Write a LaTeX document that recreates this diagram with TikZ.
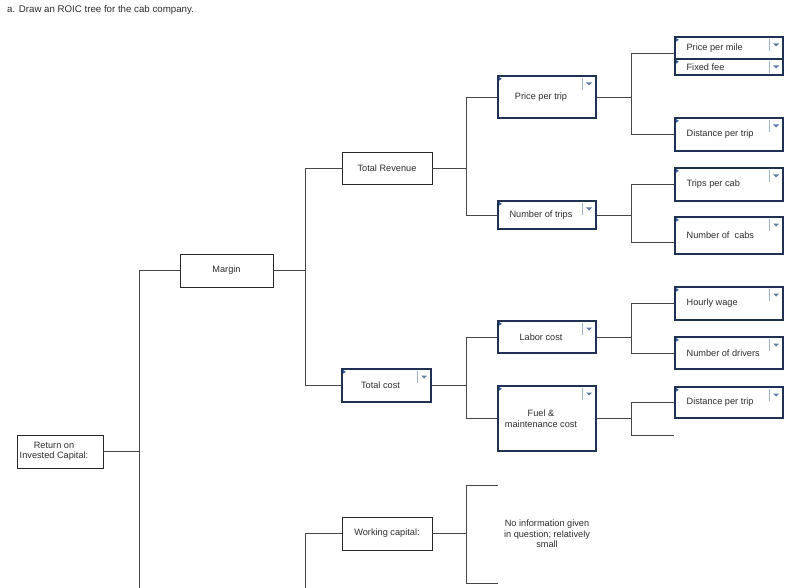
\documentclass[tikz,border=0pt]{standalone}
\usepackage{fontspec}
\setmainfont{Liberation Sans}
\definecolor{navyc}{RGB}{32,50,84}
\definecolor{plainc}{RGB}{40,40,40}
\definecolor{connc}{RGB}{70,70,70}
\definecolor{sepc}{RGB}{160,180,205}
\definecolor{tric}{RGB}{95,125,165}
\definecolor{flagc}{RGB}{50,90,160}
\definecolor{txtc}{RGB}{45,45,45}
\tikzset{
  txt/.style={font=\fontsize{9.2}{10.5}\selectfont, text=txtc, align=center, inner sep=0pt},
  plainbox/.style={draw=plainc, line width=0.9pt, fill=white, inner sep=0pt},
  ddbox/.style={draw=navyc, line width=1.2pt, fill=white, inner sep=0pt,
    path picture={
      \draw[sepc, line width=0.8pt] ([xshift=-14pt,yshift=-2pt]path picture bounding box.north east) -- ++(0pt,-12pt);
      \fill[tric] ([xshift=-10pt,yshift=-6.5pt]path picture bounding box.north east) -- ++(6pt,0pt) -- ++(-3pt,-3pt) -- cycle;
      \fill[flagc] ([xshift=0.8pt,yshift=-0.8pt]path picture bounding box.north west) -- ++(0pt,-4pt) -- ++(3pt,2pt) -- cycle;
    }},
  conn/.style={draw=connc, line width=0.8pt},
  midlab/.style={label={[txt,xshift=-6pt]center:#1}},
  rightlab/.style={label={[txt,anchor=west,xshift=12pt]west:#1}},
}
\begin{document}
\begin{tikzpicture}[x=1pt,y=-1pt]
\useasboundingbox[fill=white] (0,0) rectangle (800,588);

\node[anchor=west, font=\fontsize{9.7}{11}\selectfont, text=txtc, inner sep=0pt] (title) at (7,10) {a. Draw an ROIC tree for the cab company.};

% column coordinates
\coordinate (c0) at (139,0);
\coordinate (c1) at (305,0);
\coordinate (c2) at (466,0);
\coordinate (c3) at (631,0);
\coordinate (bot0) at (139,588);
\coordinate (bot1) at (305,588);
\coordinate (s1) at (498,485);
\coordinate (s2) at (498,583);
\coordinate (s3) at (674,435);

% level 0-2 boxes
\node[plainbox, minimum width=86pt, minimum height=33pt, label={[txt,xshift=-6pt]center:Return on\\Invested Capital:}] (roic) at (60,451.5) {};
\node[plainbox, minimum width=93pt, minimum height=33pt, label={[txt]center:Margin}] (margin) at (226.5,270.5) {};
\node[plainbox, minimum width=90pt, minimum height=32pt, label={[txt]center:Total Revenue}] (trev) at (387,168) {};
\node[ddbox, minimum width=89pt, minimum height=33pt, midlab={Total cost}] (tcost) at (386.5,385.5) {};
\node[plainbox, minimum width=90pt, minimum height=33pt, label={[txt]center:Working capital:}] (wcap) at (387,533.5) {};

% level 3
\node[ddbox, minimum width=98pt, minimum height=42pt, midlab={Price per trip}] (ppt) at (547,97) {};
\node[ddbox, minimum width=98pt, minimum height=28pt, midlab={Number of trips}] (nt) at (547,215) {};
\node[ddbox, minimum width=98pt, minimum height=32pt, midlab={Labor cost}] (labor) at (547,337) {};
\node[ddbox, minimum width=98pt, minimum height=65pt, midlab={Fuel \&\\maintenance cost}] (fuel) at (547,418.5) {};
\node[txt] (noinfo) at (547,534) {No information given\\in question; relatively\\small};

% level 4
\node[ddbox, minimum width=108pt, minimum height=22pt, rightlab={Price per mile}] (ppm) at (729,48) {};
\node[ddbox, minimum width=108pt, minimum height=16pt, rightlab={Fixed fee}] (ff) at (729,67) {};
\node[ddbox, minimum width=108pt, minimum height=33pt, rightlab={Distance per trip}] (dpt1) at (729,134.5) {};
\node[ddbox, minimum width=108pt, minimum height=33pt, rightlab={Trips per cab}] (tpc) at (729,184.5) {};
\node[ddbox, minimum width=108pt, minimum height=37pt, rightlab={Number of\ \ cabs}] (ncabs) at (729,235.5) {};
\node[ddbox, minimum width=108pt, minimum height=33pt, rightlab={Hourly wage}] (hw) at (729,303.5) {};
\node[ddbox, minimum width=108pt, minimum height=32pt, rightlab={Number of drivers}] (nd) at (729,353) {};
\node[ddbox, minimum width=108pt, minimum height=31pt, rightlab={Distance per trip}] (dpt2) at (729,402.5) {};

% connectors
\draw[conn] (roic.east) -- (roic.east -| c0);
\draw[conn] (margin.west) -- (margin.west -| c0) -- (bot0);
\draw[conn] (margin.east) -- (margin.east -| c1);
\draw[conn] (trev.west) -- (trev.west -| c1) -- (tcost.west -| c1) -- (tcost.west);
\draw[conn] (wcap.west) -- (wcap.west -| c1) -- (bot1);

\draw[conn] (trev.east) -- (trev.east -| c2);
\draw[conn] (ppt.west) -- (ppt.west -| c2) -- (nt.west -| c2) -- (nt.west);
\draw[conn] (tcost.east) -- (tcost.east -| c2);
\draw[conn] (labor.west) -- (labor.west -| c2) -- (fuel.west -| c2) -- (fuel.west);
\draw[conn] (wcap.east) -- (wcap.east -| c2);
\draw[conn] (s1) -- (s1 -| c2) -- (s2 -| c2) -- (s2);

\draw[conn] (ppt.east) -- (ppt.east -| c3);
\draw[conn] ([yshift=-5pt]ppm.west) -- ([yshift=-5pt]ppm.west -| c3) -- (dpt1.west -| c3) -- (dpt1.west);
\draw[conn] (nt.east) -- (nt.east -| c3);
\draw[conn] (tpc.west) -- (tpc.west -| c3) -- ([yshift=-6.5pt]ncabs.west -| c3) -- ([yshift=-6.5pt]ncabs.west);
\draw[conn] (labor.east) -- (labor.east -| c3);
\draw[conn] (hw.west) -- (hw.west -| c3) -- (nd.west -| c3) -- (nd.west);
\draw[conn] (fuel.east) -- (fuel.east -| c3);
\draw[conn] (dpt2.west) -- (dpt2.west -| c3) -- (s3 -| c3) -- (s3);
\end{tikzpicture}
\end{document}
